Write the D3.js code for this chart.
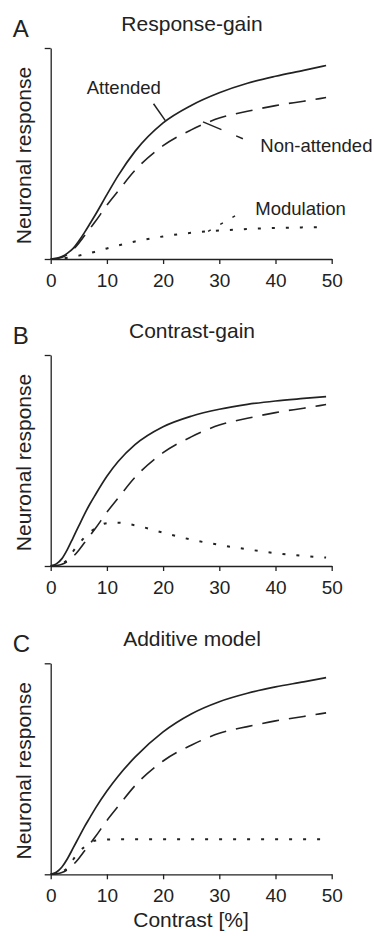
<!DOCTYPE html>
<html><head><meta charset="utf-8">
<script src="https://cdn.jsdelivr.net/npm/d3@7"></script>
<style>
body{margin:0;background:#fff}
svg text{font-family:"Liberation Sans",Arial,Helvetica,sans-serif;fill:#222}
</style>
</head><body>
<svg id="chart" width="374" height="936"></svg>
<script>
// ---------- data ----------
const contrast      = [0, 1, 2, 3, 4, 5, 6, 7, 8, 10, 12, 15, 20, 25, 30, 35, 40, 45, 49];
const xTicks        = [0, 10, 20, 30, 40, 50];
const panelLetters  = ["A", "B", "C"];
const panelTitles   = ["Response-gain", "Contrast-gain", "Additive model"];

// non-attended curve (same in every panel)
const nonAttended   = [0, 0.002, 0.008, 0.022, 0.045, 0.075, 0.11, 0.145, 0.18, 0.255, 0.322, 0.42, 0.537, 0.612, 0.668, 0.70, 0.727, 0.748, 0.765];

// A: response gain
const attendedA     = [0, 0.003, 0.012, 0.028, 0.05, 0.085, 0.125, 0.168, 0.212, 0.305, 0.395, 0.51, 0.645, 0.728, 0.788, 0.833, 0.866, 0.894, 0.917];
const modulationA   = [0, 0.001, 0.003, 0.006, 0.01, 0.016, 0.022, 0.028, 0.035, 0.05, 0.064, 0.083, 0.107, 0.124, 0.135, 0.142, 0.147, 0.150, 0.151];

// B: contrast gain
const attendedB     = [0, 0.01, 0.035, 0.08, 0.135, 0.19, 0.245, 0.295, 0.34, 0.425, 0.495, 0.575, 0.66, 0.71, 0.743, 0.766, 0.782, 0.794, 0.803];
const modulationB   = [0, 0.005, 0.012, 0.03, 0.07, 0.105, 0.135, 0.16, 0.18, 0.203, 0.205, 0.193, 0.158, 0.125, 0.10, 0.079, 0.061, 0.048, 0.040];

// C: additive model
const attendedC     = [0, 0.01, 0.035, 0.075, 0.125, 0.175, 0.225, 0.27, 0.315, 0.395, 0.465, 0.555, 0.675, 0.76, 0.818, 0.858, 0.888, 0.912, 0.932];
const modulationC   = [0, 0.005, 0.012, 0.03, 0.07, 0.105, 0.13, 0.15, 0.16, 0.165, 0.166, 0.166, 0.166, 0.166, 0.166, 0.166, 0.166, 0.166, 0.166];

// panel A labels (data units)
const labelText     = ["Attended", "Non-attended", "Modulation"];
const labelX        = [13.0, 37.3, 36.4];
const labelY        = [0.78, 0.509, 0.209];
const leaderX1      = [18.3, 27.1, 32.8];
const leaderY1      = [0.736, 0.650, 0.204];
const leaderX2      = [20.4, 34.2, 27.8];
const leaderY2      = [0.656, 0.570, 0.128];
const leaderStyle   = ["solid", "dashed", "dotted"];

// ---------- drawing ----------
const panels = [
  {att: attendedA, mod: modulationA},
  {att: attendedB, mod: modulationB},
  {att: attendedC, mod: modulationC}
];
const axisYs = [259, 566, 874.3];
const plotH = 211;
const ink = "#222";
const dashes = {solid: null, dashed: "17,10", dotted: "3,11"};

const svg = d3.select("#chart");
const x = d3.scaleLinear().domain([0, 50]).range([50.7, 331.7]);

panels.forEach((p, i) => {
  const base = axisYs[i];
  const y = d3.scaleLinear().domain([0, 1]).range([base, base - plotH]);
  const g = svg.append("g");

  // axes
  const xa = g.append("g").attr("transform", `translate(0,${base})`)
    .call(d3.axisBottom(x).tickValues(xTicks).tickSize(5).tickSizeOuter(0).tickPadding(9.5));
  const ya = g.append("g").attr("transform", `translate(${x(0)},0)`)
    .call(d3.axisLeft(y).tickValues([0, 1]).tickSize(6).tickSizeOuter(0).tickFormat(""));
  [xa, ya].forEach(a => {
    a.selectAll("path,line").attr("stroke", ink).attr("stroke-width", 1.3);
    a.selectAll("text").attr("font-size", 19).attr("fill", ink)
      .style("font-family", '"Liberation Sans",Arial,sans-serif');
  });

  const line = d3.line().x((d, k) => x(contrast[k])).y(d => y(d)).curve(d3.curveMonotoneX);
  const series = [
    {v: nonAttended, s: "dashed", w: 1.6},
    {v: p.mod, s: "dotted", w: 2.0},
    {v: p.att, s: "solid", w: 1.7}
  ];
  series.forEach(s => {
    g.append("path").attr("d", line(s.v)).attr("fill", "none")
      .attr("stroke", ink).attr("stroke-width", s.w)
      .attr("stroke-dasharray", dashes[s.s]);
  });

  // labels
  g.append("text").attr("x", 12.7).attr("y", base - 222).attr("font-size", 24).text(panelLetters[i]);
  g.append("text").attr("x", 192).attr("y", base - 228).attr("font-size", 21)
    .attr("text-anchor", "middle").text(panelTitles[i]);
  const cy = base - plotH / 2 + 2;
  g.append("text").attr("transform", `translate(31,${cy}) rotate(-90)`)
    .attr("font-size", 21).attr("text-anchor", "middle").text("Neuronal response");

  if (i === 0) {
    labelText.forEach((t, k) => {
      g.append("text").attr("x", x(labelX[k])).attr("y", y(labelY[k]))
        .attr("font-size", 18.5).attr("text-anchor", k === 0 ? "middle" : "start").text(t);
      g.append("line")
        .attr("x1", x(leaderX1[k])).attr("y1", y(leaderY1[k]))
        .attr("x2", x(leaderX2[k])).attr("y2", y(leaderY2[k]))
        .attr("stroke", ink).attr("stroke-width", 1.5)
        .attr("stroke-dasharray", leaderStyle[k] === "dashed" ? "20,16" : dashes[leaderStyle[k]]);
    });
  }
});

svg.append("text").attr("x", 191).attr("y", 926.7).attr("font-size", 21)
  .attr("text-anchor", "middle").text("Contrast [%]");
</script>
</body></html>
